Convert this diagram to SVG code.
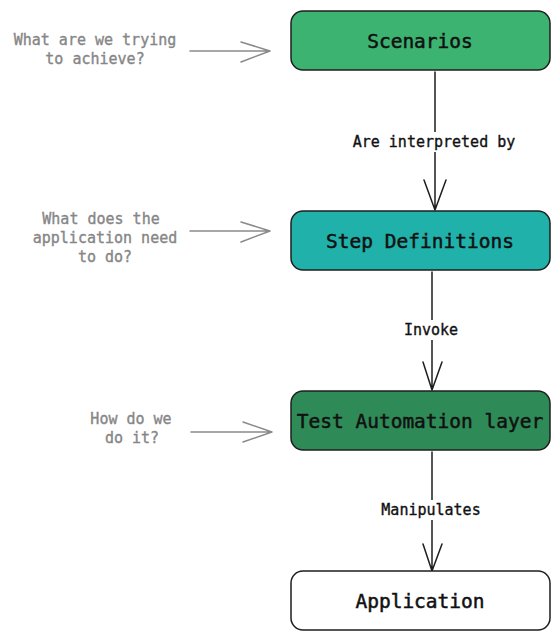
<svg xmlns="http://www.w3.org/2000/svg" width="560" height="640" viewBox="0 0 560 640">
<defs>
<style>
.node rect{stroke:#1e1e1e;stroke-width:1.5}
.nt{font-family:"DejaVu Sans Mono","Liberation Mono",monospace;font-size:19.5px;fill:#111;stroke:#111;stroke-width:0.5;text-anchor:middle;dominant-baseline:central}
.el{font-family:"DejaVu Sans Mono","Liberation Mono",monospace;font-size:15px;fill:#111;stroke:#111;stroke-width:0.35;text-anchor:middle;dominant-baseline:central}
.q{font-family:"DejaVu Sans Mono","Liberation Mono",monospace;font-size:15px;fill:#868686;stroke:#868686;stroke-width:0.35;text-anchor:middle;dominant-baseline:central}
.c{stroke:#1e1e1e;stroke-width:1.5;fill:none;stroke-linecap:round;stroke-linejoin:round}
.g{stroke:#8a8a8a;stroke-width:1.5;fill:none;stroke-linecap:round;stroke-linejoin:round}
</style>
</defs>
<rect width="560" height="640" fill="#fff"/>
<g id="connectors">
<path class="c" d="M435 72 L435 210 M424 180 L435 210 L446 180"/>
<path class="c" d="M432 272 L432 390 M423 362 L432 390 L442 362"/>
<path class="c" d="M432 452 L432 571 M423 544 L432 571 L442 544"/>
<rect x="346" y="132" width="176" height="20" fill="#fff"/>
<text class="el" x="434" y="142">Are interpreted by</text>
<rect x="400" y="320" width="62" height="20" fill="#fff"/>
<text class="el" x="431" y="330">Invoke</text>
<rect x="376" y="500" width="110" height="20" fill="#fff"/>
<text class="el" x="431" y="510">Manipulates</text>
<path class="g" d="M190 51 L270 51 M241 42 L270 51 L241 62"/>
<path class="g" d="M190 231 L270 231 M241 222 L270 231 L241 242"/>
<path class="g" d="M191 432 L272 432 M243 422 L272 432 L243 442"/>
</g>
<g id="q1">
<text class="q" x="95" y="40">What are we trying</text>
<text class="q" x="95" y="59">to achieve?</text>
</g>
<g id="q2">
<text class="q" x="101" y="219">What does the</text>
<text class="q" x="105" y="238">application need</text>
<text class="q" x="105" y="257">to do?</text>
</g>
<g id="q3">
<text class="q" x="131" y="419">How do we</text>
<text class="q" x="132" y="438">do it?</text>
</g>
<g id="scenarios" class="node">
<rect x="291" y="11" width="259" height="59" rx="12" fill="#3cb371"/>
<text class="nt" x="420" y="41">Scenarios</text>
</g>
<g id="step-definitions" class="node">
<rect x="291" y="211" width="259" height="59" rx="12" fill="#20b2aa"/>
<text class="nt" x="420" y="241">Step Definitions</text>
</g>
<g id="test-automation-layer" class="node">
<rect x="291" y="391" width="259" height="59" rx="12" fill="#2e8b57"/>
<text class="nt" x="420" y="421">Test Automation layer</text>
</g>
<g id="application" class="node">
<rect x="291" y="571" width="259" height="59" rx="12" fill="#fff"/>
<text class="nt" x="420" y="601">Application</text>
</g>
</svg>
